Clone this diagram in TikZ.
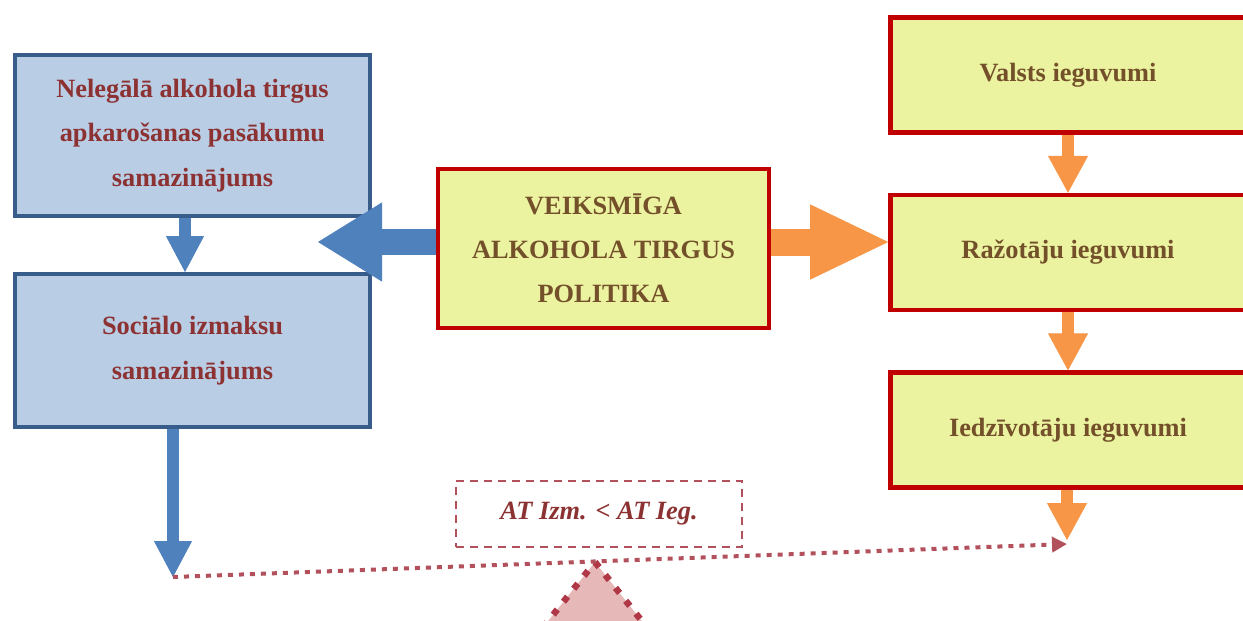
\documentclass[tikz,border=0pt]{standalone}
\usepackage{fontspec}
\setmainfont{Liberation Serif}
\usepackage{tikz}
\usetikzlibrary{positioning,arrows.meta}
\definecolor{boxblue}{RGB}{185,205,229}
\definecolor{lineblue}{RGB}{56,93,138}
\definecolor{arrblue}{RGB}{79,129,189}
\definecolor{boxyellow}{RGB}{235,243,160}
\definecolor{linered}{RGB}{192,0,0}
\definecolor{arrorange}{RGB}{247,150,70}
\definecolor{txtred}{RGB}{140,50,50}
\definecolor{txtbrown}{RGB}{115,80,42}
\definecolor{beamred}{RGB}{178,80,92}
\definecolor{pivotred}{RGB}{175,55,70}
\definecolor{pivotpink}{RGB}{230,185,184}

\begin{document}
\begin{tikzpicture}[font=\fontsize{15}{25.2}\selectfont\bfseries,
		bluebox/.style={draw=lineblue,line width=2.3pt,fill=boxblue,text=txtred,align=center,minimum width=7.1cm},
		yelbox/.style={draw=linered,line width=2.6pt,fill=boxyellow,text=txtbrown,align=center,minimum width=7.1cm,minimum height=2.3cm},
		bluearr/.style={draw=arrblue,line width=0.25cm,-{Triangle[width=0.76cm,length=0.72cm,line width=0.5pt]}},
		orarr/.style={draw=arrorange,line width=0.24cm,-{Triangle[width=0.8cm,length=0.74cm,line width=0.5pt]}},
		beam/.style={draw=beamred,line width=0.08cm,dash pattern=on 0.1cm off 0.12cm,-{Triangle[length=0.3cm,width=0.3cm]}}]
		\useasboundingbox (0,0) rectangle (24.86,-12.4);

		\node[bluebox,minimum height=3.22cm] (neleg) at (3.85,-2.71) {Nelegālā alkohola tirgus\\apkarošanas pasākumu\\samazinājums};
		\node[bluebox,minimum height=3.06cm] (soc) [below=1.08cm of neleg] {Sociālo izmaksu\\samazinājums};
		\node[yelbox,minimum width=6.62cm,minimum height=3.18cm] (pol) at (12.07,-4.97) {VEIKSMĪGA\\ALKOHOLA TIRGUS\\POLITIKA};
		\node[yelbox] (valsts) at (21.36,-1.5) {Valsts ieguvumi};
		\node[yelbox] (raz) [below=1.16cm of valsts] {Ražotāju ieguvumi};
		\node[yelbox] (iedz) [below=1.16cm of raz] {Iedzīvotāju ieguvumi};
		\node[draw=beamred,line width=1.2pt,dash pattern=on 0.16cm off 0.12cm,minimum width=5.72cm,minimum height=1.32cm,
			text=txtred,font=\fontsize{15}{18}\selectfont\bfseries\itshape] (cmp) at (11.98,-10.28) {AT Izm. < AT Ieg.};

		\coordinate (ltip) at (6.36,-4.84);
		\coordinate (lbeam) at (3.46,-11.54);
		\coordinate (rbeam) at (21.34,-10.88);

		% balsts
		\draw[draw=pivotred,fill=pivotpink,line width=0.13cm,dash pattern=on 0.13cm off 0.2cm]
			(11.9,-11.24) -- (12.98,-12.6) -- (10.82,-12.6) -- cycle;

		\draw[bluearr] ([xshift=-0.15cm]neleg.south) -- ([xshift=-0.15cm]soc.north);
		\draw[bluearr] (soc.south -| lbeam) -- (lbeam);
		\draw[bluearr,line width=0.52cm,-{Triangle[width=1.58cm,length=1.28cm,line width=0.5pt]}] (pol.west |- ltip) -- (ltip);
		\draw[orarr,line width=0.54cm,-{Triangle[width=1.5cm,length=1.56cm,line width=0.5pt]}] (pol.east |- ltip) -- (raz.west |- ltip);
		\draw[orarr] (valsts.south) -- (raz.north);
		\draw[orarr] (raz.south) -- (iedz.north);
		\draw[orarr] (iedz.south -| rbeam) -- ([yshift=0.08cm]rbeam);
		\draw[beam] (lbeam) -- (rbeam);
	\end{tikzpicture}
\end{document}
